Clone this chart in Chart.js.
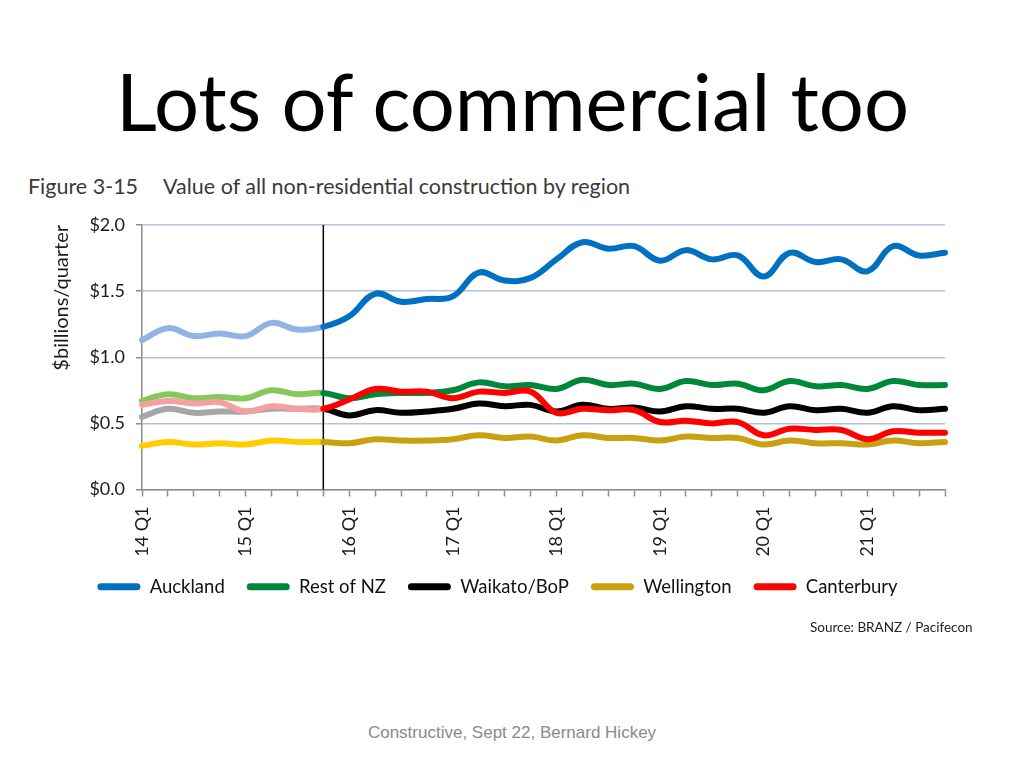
<!DOCTYPE html>
<html>
<head>
<meta charset="utf-8">
<script src="https://cdn.jsdelivr.net/npm/chart.js@4.4.1/dist/chart.umd.min.js"></script>
<style>
  html, body { margin: 0; padding: 0; background: #ffffff; }
  body { width: 1024px; height: 768px; position: relative; overflow: hidden; }
  #title { position: absolute; left: 116px; top: 61px; font-family: Lato, "Open Sans", sans-serif; font-size: 79.5px; color: #000; white-space: nowrap; line-height: 1; }
  #fig { position: absolute; left: 28px; top: 173px; font-family: Lato, sans-serif; font-size: 21.5px; color: #3a3a3a; white-space: nowrap; }
  #fig span { margin-left: 25px; }
  #source { position: absolute; left: 810px; top: 619px; font-family: Lato, sans-serif; font-size: 13.5px; color: #222; white-space: nowrap; }
  #footer { position: absolute; left: 0; width: 1024px; top: 723px; text-align: center; font-family: "Liberation Sans", Arial, sans-serif; font-size: 17px; color: #8a8a8a; }
  #wrap { position: absolute; left: 0; top: 200px; width: 1024px; height: 420px; }
</style>
</head>
<body>
<div id="title">Lots of commercial too</div>
<div id="fig">Figure 3-15<span>Value of all non-residential construction by region</span></div>
<div id="wrap"><canvas id="c" width="1024" height="420"></canvas></div>
<div id="source">Source: BRANZ / Pacifecon</div>
<div id="footer">Constructive, Sept 22, Bernard Hickey</div>
<script>
const quarters = ["14 Q1","14 Q2","14 Q3","14 Q4","15 Q1","15 Q2","15 Q3","15 Q4",
  "16 Q1","16 Q2","16 Q3","16 Q4","17 Q1","17 Q2","17 Q3","17 Q4",
  "18 Q1","18 Q2","18 Q3","18 Q4","19 Q1","19 Q2","19 Q3","19 Q4",
  "20 Q1","20 Q2","20 Q3","20 Q4","21 Q1","21 Q2","21 Q3","21 Q4"];
const seriesNames = ["Auckland","Rest of NZ","Waikato/BoP","Wellington","Canterbury"];
const auckland   = [1.13,1.22,1.16,1.18,1.16,1.26,1.21,1.23,1.31,1.48,1.42,1.44,1.46,1.64,1.58,1.60,1.74,1.87,1.82,1.84,1.73,1.81,1.74,1.77,1.61,1.79,1.72,1.74,1.65,1.84,1.77,1.79];
const restOfNZ   = [0.67,0.72,0.69,0.70,0.69,0.75,0.72,0.73,0.69,0.72,0.73,0.73,0.75,0.81,0.78,0.79,0.76,0.83,0.79,0.80,0.76,0.82,0.79,0.80,0.75,0.82,0.78,0.79,0.76,0.82,0.79,0.79];
const waikatoBoP = [0.55,0.61,0.58,0.59,0.59,0.61,0.61,0.61,0.56,0.60,0.58,0.59,0.61,0.65,0.63,0.64,0.59,0.64,0.61,0.62,0.59,0.63,0.61,0.61,0.58,0.63,0.60,0.61,0.58,0.63,0.60,0.61];
const wellington = [0.33,0.36,0.34,0.35,0.34,0.37,0.36,0.36,0.35,0.38,0.37,0.37,0.38,0.41,0.39,0.40,0.37,0.41,0.39,0.39,0.37,0.40,0.39,0.39,0.34,0.37,0.35,0.35,0.34,0.37,0.35,0.36];
const canterbury = [0.64,0.67,0.65,0.66,0.59,0.63,0.61,0.61,0.68,0.76,0.74,0.74,0.69,0.74,0.73,0.74,0.58,0.61,0.60,0.60,0.51,0.52,0.50,0.51,0.41,0.46,0.45,0.45,0.38,0.44,0.43,0.43];
const yTicks = [0, 0.5, 1.0, 1.5, 2.0];
const markerIndex = 7; // vertical line at 15 Q4 (history / forecast split)

const fullColors  = ["#0070c0","#00883a","#000000","#c9a010","#ff0000"];
const fadedColors = ["#8fb4e3","#86c85a","#a6a6a6","#ffcc00","#f4a0a0"];
const drawOrder   = [1, 3, 2, 4, 0];
const values = [auckland, restOfNZ, waikatoBoP, wellington, canterbury];

const datasets = seriesNames.map((name, i) => ({
  label: name,
  data: values[i],
  borderColor: fullColors[i],
  backgroundColor: fullColors[i],
  borderWidth: 6,
  borderCapStyle: 'round',
  borderJoinStyle: 'round',
  pointRadius: 0,
  pointHoverRadius: 0,
  tension: 0.4,
  fill: false,
  order: drawOrder[i],
  segment: {
    borderColor: ctx => ctx.p0DataIndex < markerIndex ? fadedColors[ctx.datasetIndex] : fullColors[ctx.datasetIndex]
  }
}));

const markerLine = {
  id: 'markerLine',
  beforeDatasetsDraw(chart) {
    const x = chart.scales.x.getPixelForValue(markerIndex);
    const a = chart.chartArea;
    const ctx = chart.ctx;
    ctx.save();
    ctx.strokeStyle = '#000';
    ctx.lineWidth = 1.5;
    ctx.beginPath();
    ctx.moveTo(x, a.top);
    ctx.lineTo(x, a.bottom);
    ctx.stroke();
    ctx.restore();
  }
};

new Chart(document.getElementById('c'), {
  type: 'line',
  data: { labels: quarters, datasets },
  plugins: [markerLine],
  options: {
    responsive: false,
    animation: false,
    layout: { padding: { left: 50, right: 79, top: 25, bottom: 14 } },
    plugins: {
      tooltip: { enabled: false },
      legend: {
        position: 'bottom',
        labels: {
          sort: (a, b) => a.datasetIndex - b.datasetIndex,
          generateLabels: chart => Chart.defaults.plugins.legend.labels.generateLabels(chart)
            .map(l => Object.assign(l, { lineWidth: 0, fillStyle: fullColors[l.datasetIndex] })),
          boxWidth: 43,
          boxHeight: 7,
          useBorderRadius: true,
          borderRadius: 3.5,
          padding: 22,
          color: '#111',
          font: { family: 'Lato', size: 18.5 }
        }
      }
    },
    scales: {
      x: {
        type: 'category',
        offset: false,
        afterFit: s => { s.height = 66; },
        grid: { drawOnChartArea: false, drawTicks: true, tickLength: 7, tickColor: '#8c8c8c', tickWidth: 1.5 },
        border: { color: '#8c8c8c', width: 1.5 },
        ticks: {
          autoSkip: false, maxRotation: 90, minRotation: 90, padding: 10,
          color: '#1a1a1a', font: { family: 'Lato', size: 18 },
          callback: function(v, i) { const l = quarters[i]; return l.endsWith('Q1') ? l : ''; }
        }
      },
      y: {
        min: 0, max: 2,
        afterFit: s => { s.width = 92; },
        afterBuildTicks: s => { s.ticks = yTicks.map(v => ({ value: v })); },
        grid: { color: '#b3c1dc', lineWidth: 1.5, tickLength: 6, tickColor: '#8c8c8c' },
        border: { color: '#8c8c8c', width: 1.5 },
        ticks: {
          padding: 11, color: '#1a1a1a', font: { family: 'Lato', size: 18 },
          callback: v => '$' + Number(v).toFixed(1)
        },
        title: {
          display: true, text: '$billions/quarter', align: 'end',
          color: '#1a1a1a', font: { family: 'Lato', size: 20 }, padding: { top: 0, bottom: 0 }
        }
      }
    }
  }
});
</script>
</body>
</html>
